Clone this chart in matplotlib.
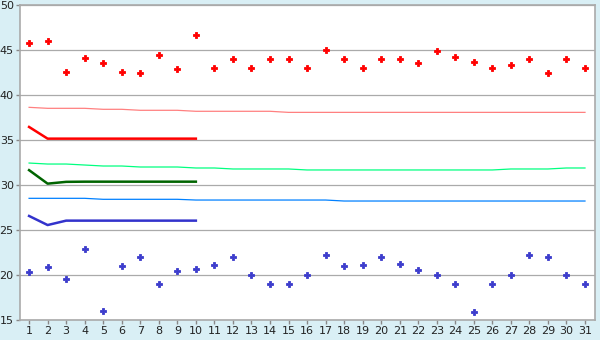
import matplotlib
matplotlib.use("Agg")
import matplotlib.pyplot as plt
import numpy as np

days = list(range(1, 32))

red_points = [45.8, 46.0, 42.6, 44.1, 43.6, 42.6, 42.5, 44.5, 42.9, 46.7,
              43.0, 44.0, 43.0, 44.0, 44.0, 43.0, 45.0, 44.0, 43.0, 44.0,
              44.0, 43.6, 44.9, 44.2, 43.7, 43.0, 43.3, 44.0, 42.5, 44.0, 43.0]
blue_points = [20.3, 20.9, 19.6, 22.9, 16.0, 21.0, 22.0, 19.0, 20.4, 20.7,
               21.1, 22.0, 20.0, 19.0, 19.0, 20.0, 22.2, 21.0, 21.1, 22.0,
               21.2, 20.6, 20.0, 19.0, 15.9, 19.0, 20.0, 22.2, 22.0, 20.0, 19.0]

salmon_line = [38.63, 38.52, 38.52, 38.52, 38.41, 38.41, 38.30, 38.30, 38.30, 38.19,
               38.19, 38.19, 38.19, 38.19, 38.07, 38.07, 38.07, 38.07, 38.07, 38.07,
               38.07, 38.07, 38.07, 38.07, 38.07, 38.07, 38.07, 38.07, 38.07, 38.07, 38.07]
mint_line = [32.44, 32.33, 32.33, 32.22, 32.11, 32.11, 32.00, 32.00, 32.00, 31.89,
             31.89, 31.78, 31.78, 31.78, 31.78, 31.67, 31.67, 31.67, 31.67, 31.67,
             31.67, 31.67, 31.67, 31.67, 31.67, 31.67, 31.78, 31.78, 31.78, 31.89, 31.89]
azure_line = [28.52, 28.52, 28.52, 28.52, 28.41, 28.41, 28.41, 28.41, 28.41, 28.33,
              28.33, 28.33, 28.33, 28.33, 28.33, 28.33, 28.33, 28.22, 28.22, 28.22,
              28.22, 28.22, 28.22, 28.22, 28.22, 28.22, 28.22, 28.22, 28.22, 28.22, 28.22]

days10 = list(range(1, 11))
red_thick = [36.45, 35.15, 35.15, 35.15, 35.15, 35.15, 35.15, 35.15, 35.15, 35.15]
green_thick = [31.65, 30.15, 30.35, 30.37, 30.37, 30.37, 30.37, 30.37, 30.37, 30.37]
blue_thick = [26.56, 25.55, 26.04, 26.04, 26.04, 26.04, 26.04, 26.04, 26.04, 26.04]

yticks = [15, 20, 25, 30, 35, 40, 45, 50]

fig = plt.figure(figsize=(6, 3.4), dpi=100)
fig.patch.set_facecolor("#d9eff5")
ax = fig.add_axes([20/600, 20/340, 575/600, 315/340])
ax.set_facecolor("white")

for y in yticks:
    ax.axhline(y, color="#aaaaaa", lw=0.9, zorder=0)

ax.plot(days, salmon_line, color="#ff8080", lw=0.9)
ax.plot(days, mint_line, color="#00ff80", lw=0.9)
ax.plot(days, azure_line, color="#0080ff", lw=0.9)
ax.plot(days10, red_thick, color="#ff0000", lw=1.8)
ax.plot(days10, green_thick, color="#006400", lw=1.8)
ax.plot(days10, blue_thick, color="#3333cc", lw=1.8)

ax.plot(days, red_points, ls="none", marker="P", ms=4.5, color="#ff0000", mec="#ff0000", mew=0.6)
ax.plot(days, blue_points, ls="none", marker="P", ms=4.5, color="#3c3ccc", mec="#3c3ccc", mew=0.6)

ax.set_xlim(0.51, 31.54)
ax.set_ylim(15, 50)
ax.set_xticks(days)
ax.set_yticks(yticks)
ax.tick_params(axis="both", direction="out", color="#888888", labelsize=8,
               labelcolor="#222222", length=3, width=1, pad=1.5)
for s in ax.spines.values():
    s.set_color("#aaaaaa")
    s.set_linewidth(1.2)

fig.savefig("out.png", dpi=100, facecolor=fig.get_facecolor())
